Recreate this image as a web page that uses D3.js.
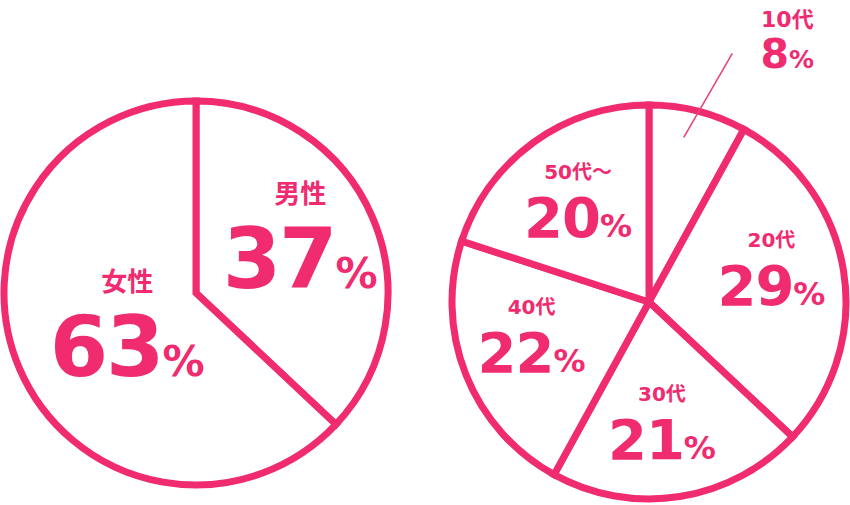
<!DOCTYPE html>
<html>
<head>
<meta charset="utf-8">
<script src="https://cdn.jsdelivr.net/npm/d3@7"></script>
<style>
  body { margin: 0; background: #fff; }
  text { font-family: "DejaVu Sans", "Noto Sans CJK JP", sans-serif; font-weight: bold; }
</style>
</head>
<body>
<div id="chart"></div>
<script>
// data
const genderLabels = ["男性", "女性"];
const genderValues = [37, 63];
const ageLabels = ["10代", "20代", "30代", "40代", "50代～"];
const ageValues = [8, 29, 21, 22, 20];

const pink = "#f02b6f";
const width = 850, height = 505;

const svg = d3
  .select("#chart")
  .append("svg")
  .attr("width", width)
  .attr("height", height);

// label placement per slice (radius from centre + small nudges)
const labelLayout = {
  "男性": { r: 120, dx: -6, dy: -11 },
  "女性": { r: 75, dx: 0, dy: -1 },
  "20代": { r: 127, dx: -3, dy: -14 },
  "30代": { r: 121, dx: -6, dy: 0 },
  "40代": { r: 122, dx: -4, dy: -12 },
  "50代～": { r: 124, dx: 2, dy: -2 }
};

function drawPie(cx, cy, radius, labels, values) {
  const g = svg.append("g").attr("transform", `translate(${cx},${cy})`);

  const data = labels.map((l, i) => ({ label: l, value: values[i] }));
  const pie = d3.pie().sort(null).value((d) => d.value);
  const arcs = pie(data);
  const arc = d3.arc().innerRadius(0).outerRadius(radius);

  g.selectAll("path")
    .data(arcs)
    .join("path")
    .attr("d", arc)
    .attr("fill", "#fff")
    .attr("stroke", pink)
    .attr("stroke-width", 7)
    .attr("stroke-linejoin", "miter");

  return { g, arcs };
}

function addLabel(g, pos, name, value, sizes) {
  const t = g.append("g").attr("transform", `translate(${pos[0]},${pos[1]})`);
  t.append("text")
    .attr("y", sizes.nameY)
    .attr("text-anchor", "middle")
    .attr("font-size", sizes.name)
    .attr("fill", pink)
    .text(name);
  const num = t.append("text")
    .attr("y", sizes.numY)
    .attr("text-anchor", "middle")
    .attr("fill", pink);
  num.append("tspan")
    .attr("font-size", sizes.num)
    .attr("letter-spacing", sizes.ls)
    .text(value);
  num.append("tspan")
    .attr("font-size", sizes.pct)
    .text("%");
}

// left pie: gender
const left = drawPie(196, 293, 192, genderLabels, genderValues);
left.arcs.forEach((d) => {
  const L = labelLayout[d.data.label];
  const c = d3.arc().innerRadius(L.r).outerRadius(L.r).centroid(d);
  addLabel(left.g, [c[0] + L.dx, c[1] + L.dy], d.data.label, d.data.value,
    { name: 26, nameY: -31, num: 84, pct: 42, numY: 54, ls: -2 });
});

// right pie: age
const right = drawPie(649, 302, 197, ageLabels, ageValues);
right.arcs.forEach((d, i) => {
  if (i === 0) {
    // small slice: label outside with a leader line
    const mid = (d.startAngle + d.endAngle) / 2;
    const p0 = d3.pointRadial(mid, 168);
    const lab = d3.pointRadial(mid + 0.235, 296);
    right.g.append("line")
      .attr("x1", p0[0] - 7)
      .attr("y1", p0[1] - 2)
      .attr("x2", lab[0] - 55)
      .attr("y2", lab[1] + 13)
      .attr("stroke", "#e8457c")
      .attr("stroke-width", 1.6);
    addLabel(right.g, lab, d.data.label, d.data.value,
      { name: 22, nameY: -13, num: 41, pct: 25, numY: 28, ls: 0 });
    return;
  }
  const L = labelLayout[d.data.label];
  const c = d3.arc().innerRadius(L.r).outerRadius(L.r).centroid(d);
  addLabel(right.g, [c[0] + L.dx, c[1] + L.dy], d.data.label, d.data.value,
    { name: 20, nameY: -21, num: 56, pct: 32, numY: 37, ls: -1 });
});
</script>
</body>
</html>
